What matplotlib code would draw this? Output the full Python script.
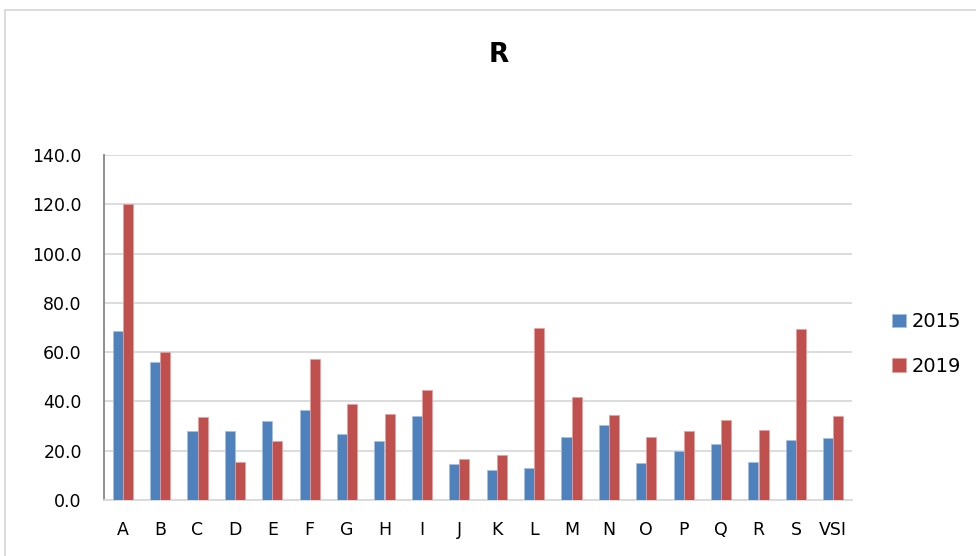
import matplotlib.pyplot as plt
import numpy as np
from matplotlib.patches import Rectangle

categories = ['A', 'B', 'C', 'D', 'E', 'F', 'G', 'H', 'I', 'J', 'K', 'L', 'M', 'N', 'O', 'P', 'Q', 'R', 'S', 'VSI']
v2015 = [68.7, 56.1, 28.2, 28.0, 31.9, 36.4, 26.8, 24.1, 33.9, 14.5, 12.2, 12.8, 25.4, 30.3, 15.1, 19.9, 22.8, 15.4, 24.3, 25.0]
v2019 = [120.0, 60.1, 33.5, 15.3, 23.9, 57.2, 38.9, 35.0, 44.6, 16.5, 18.1, 69.9, 41.6, 34.6, 25.5, 28.1, 32.6, 28.5, 69.2, 34.1]

plt.rcParams['font.family'] = ['DejaVu Sans']

fig = plt.figure(figsize=(9.76, 5.56), dpi=100)
# outer chart border
fig.patches.append(Rectangle((5 / 976, -0.05), 1.1, 0.05 + (556 - 10) / 556,
                             transform=fig.transFigure, fill=False,
                             edgecolor='#d9d9d9', linewidth=1.3))

ax = fig.add_axes([104 / 976, 56 / 556, 748 / 976, 345 / 556])

x = np.arange(len(categories))
w = 0.27
ax.bar(x - w / 2, v2015, w, color='#4F81BD', edgecolor='#a7c0de', linewidth=0.5, label='2015', zorder=3)
ax.bar(x + w / 2, v2019, w, color='#C0504D', edgecolor='#e0a3a1', linewidth=0.5, label='2019', zorder=3)

ax.set_xlim(-0.5, len(categories) - 0.5)
ax.set_ylim(0, 140)
ax.set_yticks(np.arange(0, 141, 20))
ax.set_yticklabels([f'{v:.1f}' for v in np.arange(0, 141, 20)], fontsize=12.5)
ax.set_xticks(x)
ax.set_xticklabels(categories, fontsize=12.5)
ax.tick_params(axis='x', length=0, pad=15)
ax.tick_params(axis='y', length=0, pad=16)

ax.grid(axis='y', color='#d9d9d9', linewidth=1.3, zorder=0)
for s in ['top', 'right']:
    ax.spines[s].set_visible(False)
ax.spines['left'].set_color('#868686')
ax.spines['left'].set_linewidth(1.3)
ax.spines['bottom'].set_color('#d9d9d9')
ax.spines['bottom'].set_linewidth(1.3)

fig.text(499 / 976, 1 - 55 / 556, 'R', ha='center', va='center', fontsize=19, fontweight='bold')

fig.legend(loc='center left', bbox_to_anchor=(874 / 976, 1 - 344 / 556), frameon=False,
           fontsize=14, handlelength=0.72, handleheight=0.72, handletextpad=0.3, labelspacing=1.3)

fig.savefig('out.png', dpi=100)
